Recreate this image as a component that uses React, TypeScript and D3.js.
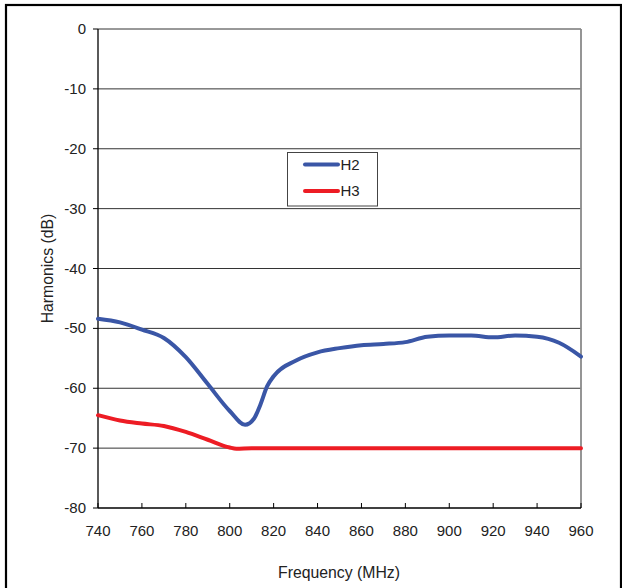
import React from "react";
import * as d3 from "d3";

const freqH2 = [740, 750, 760, 770, 780, 790, 800, 807, 811, 814, 817, 820, 830, 840, 850, 860, 870, 880, 890, 900, 910, 920, 930, 940, 950, 960];
const valH2 = [-48.4, -49.0, -50.2, -51.6, -54.8, -59.3, -63.8, -66.1, -65.1, -62.7, -59.7, -58.0, -55.4, -54.0, -53.3, -52.8, -52.6, -52.3, -51.4, -51.2, -51.2, -51.5, -51.2, -51.4, -52.4, -54.7];
const freqH3 = [740, 750, 760, 770, 780, 790, 800, 803, 810, 820, 840, 860, 880, 900, 920, 940, 960];
const valH3 = [-64.5, -65.4, -65.9, -66.3, -67.3, -68.6, -69.9, -70.1, -70, -70, -70, -70, -70, -70, -70, -70, -70];
const xTicks = [740, 760, 780, 800, 820, 840, 860, 880, 900, 920, 940, 960];
const yTicks = [0, -10, -20, -30, -40, -50, -60, -70, -80];
const seriesNames = ["H2", "H3"];
const seriesColors = ["#3a56a6", "#ed1c24"];

export default function App() {
  const W = 622, H = 588;
  const left = 98, right = 581, top = 29, bottom = 508;
  const x = d3.scaleLinear().domain([740, 960]).range([left, right]);
  const y = d3.scaleLinear().domain([-80, 0]).range([bottom, top]);
  const line = d3
    .line<[number, number]>()
    .x((d) => x(d[0]))
    .y((d) => y(d[1]))
    .curve(d3.curveMonotoneX);
  const h2 = line(freqH2.map((f, i) => [f, valH2[i]] as [number, number])) || "";
  const h3 = line(freqH3.map((f, i) => [f, valH3[i]] as [number, number])) || "";
  const font = "'Liberation Sans', Arial, sans-serif";
  const lx = 287.5, ly = 152.5, lw = 90, lh = 53.5;
  return (
    <svg
      width={W}
      height={H}
      style={{ position: "absolute", left: 0, top: 0, background: "#fff" }}
      fontFamily={font}
    >
      <rect x={0} y={0} width={W} height={H} fill="#fff" />
      {/* outer frame */}
      <rect x={6} y={5} width={615} height={600} fill="none" stroke="#000" strokeWidth={2.2} />
      {/* gridlines */}
      {yTicks.filter((t) => t !== -80).map((t) => (
        <line key={t} x1={left} x2={right} y1={y(t)} y2={y(t)} stroke="#333" strokeWidth={1} />
      ))}
      {/* right border */}
      <line x1={right} x2={right} y1={top} y2={bottom} stroke="#8a8a8a" strokeWidth={1.8} />
      {/* axes */}
      <line x1={left} x2={left} y1={top} y2={bottom} stroke="#000" strokeWidth={1.3} />
      <line x1={left} x2={right} y1={bottom} y2={bottom} stroke="#000" strokeWidth={1.3} />
      {yTicks.map((t) => (
        <g key={t}>
          <line x1={left - 5} x2={left} y1={y(t)} y2={y(t)} stroke="#000" strokeWidth={1} />
          <text x={86} y={y(t) + 5} textAnchor="end" fontSize={15} fill="#222">
            {t}
          </text>
        </g>
      ))}
      {xTicks.map((t) => (
        <g key={t}>
          <line x1={x(t)} x2={x(t)} y1={bottom - 5} y2={bottom} stroke="#000" strokeWidth={1} />
          <text x={x(t)} y={536} textAnchor="middle" fontSize={15} fill="#222">
            {t}
          </text>
        </g>
      ))}
      <text x={339} y={578} textAnchor="middle" fontSize={15.8} fill="#222">
        Frequency (MHz)
      </text>
      <text
        transform={`translate(52.5,${(top + bottom) / 2}) rotate(-90)`}
        textAnchor="middle"
        fontSize={15.8}
        fill="#222"
      >
        Harmonics (dB)
      </text>
      {/* series */}
      <path d={h3} fill="none" stroke={seriesColors[1]} strokeWidth={4} strokeLinejoin="round" strokeLinecap="round" />
      <path d={h2} fill="none" stroke={seriesColors[0]} strokeWidth={4} strokeLinejoin="round" strokeLinecap="round" />
      {/* legend */}
      <rect x={lx} y={ly} width={lw} height={lh} fill="#fff" stroke="#444" strokeWidth={1} />
      {seriesNames.map((n, i) => (
        <g key={n}>
          <line x1={305} x2={338} y1={164.5 + i * 26.5} y2={164.5 + i * 26.5} stroke={seriesColors[i]} strokeWidth={4} strokeLinecap="round" />
          <text x={340.5} y={169.8 + i * 26.5} fontSize={15} fill="#222">
            {n}
          </text>
        </g>
      ))}
    </svg>
  );
}
